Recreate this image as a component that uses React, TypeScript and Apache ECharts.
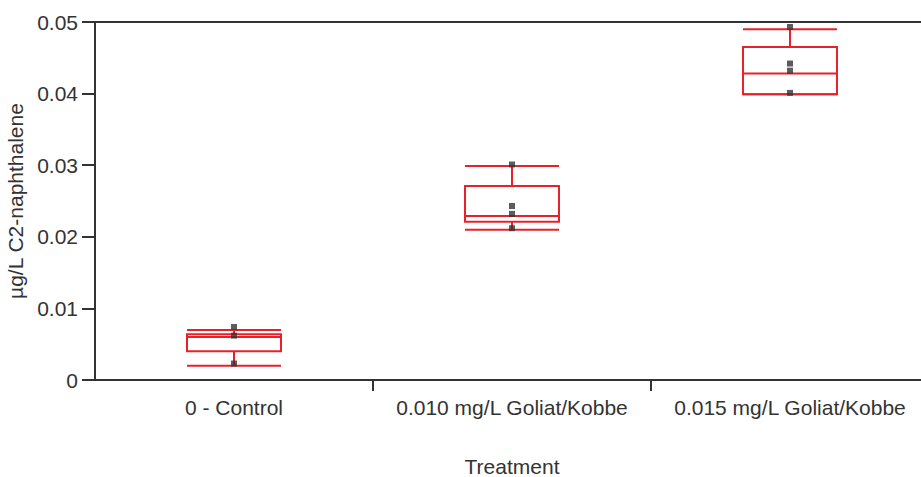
import React, { useEffect, useRef } from "react";
import * as echarts from "echarts";

const categories = ["0 - Control", "0.010 mg/L Goliat/Kobbe", "0.015 mg/L Goliat/Kobbe"];
// [lower whisker, Q1, median, Q3, upper whisker]
const boxStats = [
  [0.0020, 0.0040, 0.0060, 0.0064, 0.0070],
  [0.0210, 0.0221, 0.0229, 0.0271, 0.0299],
  [0.0399, 0.0399, 0.0428, 0.0465, 0.0490],
];
const pointCategory = [0, 0, 0, 1, 1, 1, 1, 2, 2, 2, 2];
const pointValues = [0.0074, 0.0062, 0.0023, 0.0301, 0.0243, 0.0232, 0.0212, 0.0493, 0.0442, 0.0432, 0.0401];
const yTicks = [0, 0.01, 0.02, 0.03, 0.04, 0.05];

const FONT = "'Liberation Sans', Arial, Helvetica, sans-serif";
const RED = "#e8202a";
const DARK = "#333333";
const TEXT = "#333333";

export default function App() {
  const ref = useRef<HTMLDivElement>(null);
  useEffect(() => {
    if (!ref.current) return;
    const chart = echarts.init(ref.current, null, { renderer: "svg" });
    const boxData = boxStats.map((s, i) => [i, ...s]);
    const points = pointValues.map((v, i) => [pointCategory[i], v]);
    chart.setOption({
      animation: false,
      textStyle: { fontFamily: FONT },
      grid: { left: 95, right: -8, top: 22, bottom: 97, containLabel: false, outerBoundsMode: "none" },
      xAxis: [
        {
          type: "category",
          data: categories,
          position: "bottom",
          name: "Treatment",
          nameLocation: "middle",
          nameGap: 76,
          nameTextStyle: { fontSize: 21, color: TEXT, fontFamily: FONT },
          axisLine: { show: true, lineStyle: { color: DARK, width: 2 } },
          axisTick: {
            show: true,
            length: 11,
            lineStyle: { color: DARK, width: 2 },
            interval: (index: number) => index > 0,
          },
          axisLabel: { fontSize: 21, color: TEXT, margin: 17, fontFamily: FONT, interval: 0 },
          splitLine: { show: false },
        },
        {
          type: "category",
          data: categories,
          position: "top",
          axisLine: { show: true, lineStyle: { color: DARK, width: 2 } },
          axisTick: { show: false },
          axisLabel: { show: false },
          splitLine: { show: false },
        },
      ],
      yAxis: {
        type: "value",
        min: 0,
        max: 0.05,
        interval: 0.01,
        name: "µg/L C2-naphthalene",
        nameLocation: "middle",
        nameGap: 60,
        nameTextStyle: { fontSize: 21, color: TEXT, fontFamily: FONT },
        axisLine: { show: true, lineStyle: { color: DARK, width: 2 } },
        axisTick: { show: true, length: 13, lineStyle: { color: DARK, width: 2 } },
        axisLabel: {
          fontSize: 21,
          color: TEXT,
          margin: 17,
          fontFamily: FONT,
          formatter: (v: number) => (v === 0 ? "0" : yTicks.includes(Math.round(v * 100) / 100) ? v.toFixed(2) : ""),
        },
        splitLine: { show: false },
      },
      series: [
        {
          type: "custom",
          xAxisIndex: 0,
          data: boxData,
          renderItem: (params: any, api: any) => {
            const c = api.value(0);
            const lo = api.coord([c, api.value(1)]);
            const q1 = api.coord([c, api.value(2)]);
            const med = api.coord([c, api.value(3)]);
            const q3 = api.coord([c, api.value(4)]);
            const hi = api.coord([c, api.value(5)]);
            const band = api.size([1, 0])[0];
            const w = band * 0.338;
            const x0 = lo[0] - w / 2;
            const x1 = lo[0] + w / 2;
            const st = { stroke: RED, lineWidth: 2, fill: "none" };
            return {
              type: "group",
              children: [
                { type: "rect", shape: { x: x0, y: q3[1], width: w, height: q1[1] - q3[1] }, style: { ...st } },
                { type: "line", shape: { x1: x0, y1: med[1], x2: x1, y2: med[1] }, style: { ...st } },
                { type: "line", shape: { x1: x0, y1: hi[1], x2: x1, y2: hi[1] }, style: { ...st } },
                { type: "line", shape: { x1: x0, y1: lo[1], x2: x1, y2: lo[1] }, style: { ...st } },
                { type: "line", shape: { x1: lo[0], y1: hi[1], x2: lo[0], y2: q3[1] }, style: { ...st } },
                { type: "line", shape: { x1: lo[0], y1: q1[1], x2: lo[0], y2: lo[1] }, style: { ...st } },
              ],
            };
          },
          z: 2,
        },
        {
          type: "scatter",
          xAxisIndex: 0,
          data: points,
          symbol: "rect",
          symbolSize: 6,
          itemStyle: { color: DARK },
          z: 3,
        },
      ],
    });
    return () => chart.dispose();
  }, []);
  return <div ref={ref} style={{ width: 921, height: 477, position: "absolute", left: 0, top: 0 }} />;
}
